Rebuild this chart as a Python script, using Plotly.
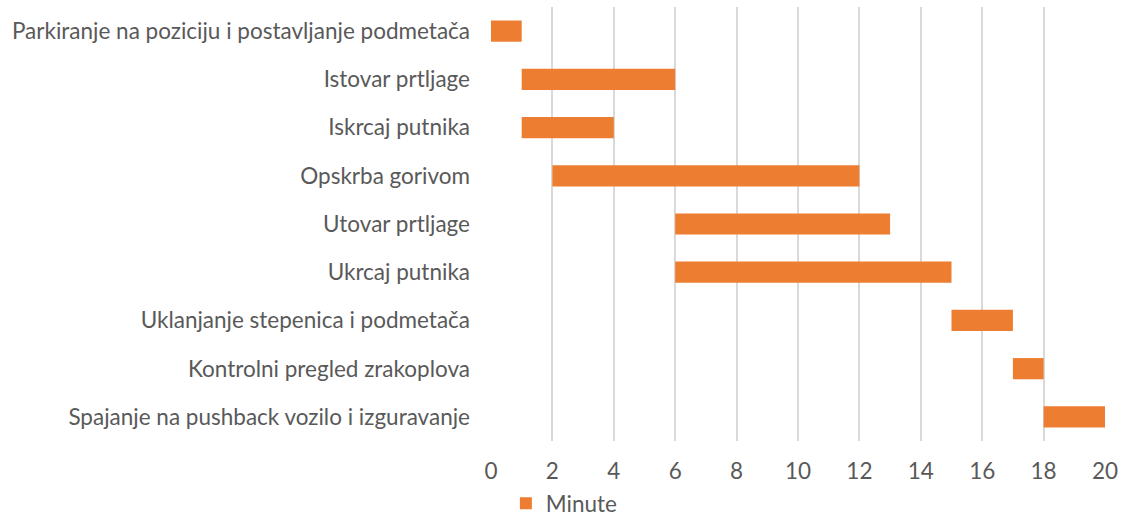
import plotly.graph_objects as go

tasks = [
    "Parkiranje na poziciju i postavljanje podmetača",
    "Istovar prtljage",
    "Iskrcaj putnika",
    "Opskrba gorivom",
    "Utovar prtljage",
    "Ukrcaj putnika",
    "Uklanjanje stepenica i podmetača",
    "Kontrolni pregled zrakoplova",
    "Spajanje na pushback vozilo i izguravanje",
]
start = [0, 1, 1, 2, 6, 6, 15, 17, 18]
duration = [1, 5, 3, 10, 7, 9, 2, 1, 2]
x_ticks = [0, 2, 4, 6, 8, 10, 12, 14, 16, 18, 20]

FONT = "Lato"
GRAY = "#595959"
FS = 22.5

fig = go.Figure()
fig.add_trace(go.Bar(
    y=tasks, x=duration, base=start, orientation="h",
    name="Minute", marker=dict(color="#ED7D31", line=dict(width=0)),
    width=0.44, showlegend=True,
))

fig.update_layout(
    width=1122, height=516,
    margin=dict(l=491, r=17, t=7, b=75),
    paper_bgcolor="white", plot_bgcolor="white",
    font=dict(family=FONT, size=FS, color=GRAY),
    showlegend=True,
    legend=dict(orientation="h", x=0.503, xanchor="center", xref="container",
                y=0.024, yanchor="middle", yref="container",
                font=dict(family=FONT, size=FS, color=GRAY),
                itemwidth=30),
)
fig.update_xaxes(range=[0, 20], tickvals=x_ticks, showgrid=True,
                 gridcolor="#D9D9D9", gridwidth=1.5, zeroline=False,
                 showline=False, ticks="", ticklabelstandoff=14,
                 automargin=False,
                 tickfont=dict(family=FONT, size=FS, color=GRAY))
fig.update_yaxes(autorange="reversed", showgrid=False, showline=False,
                 ticks="", ticklabelstandoff=20, automargin=False,
                 tickfont=dict(family=FONT, size=FS, color=GRAY))

fig.write_html(
    "out.html",
    config={"displayModeBar": False},
    post_script="document.body.style.margin='0';document.body.style.overflow='hidden';",
)
